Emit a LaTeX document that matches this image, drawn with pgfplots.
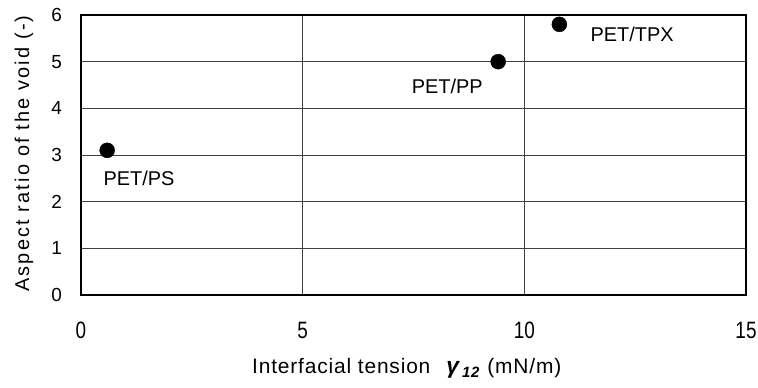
\documentclass[border=0pt]{standalone}
\usepackage{fontspec}
\setmainfont{Liberation Sans}
\newfontfamily\spacedx[LetterSpace=4]{Liberation Sans}
\newfontfamily\spacedy[LetterSpace=11]{Liberation Sans}
\usepackage{pgfplots}
\pgfplotsset{compat=1.18}
\begin{document}
\begin{tikzpicture}
\path[use as bounding box] (-81bp,-93bp) rectangle (677bp,295bp);
\begin{axis}[at={(0,0)},anchor=south west,scale only axis,width=665bp,height=280bp,
  xmin=0,xmax=15,ymin=0,ymax=6,xtick={0,5,10,15},ytick={0,1,2,3,4,5,6},
  grid=major, major grid style={black!75,line width=0.6bp},
  axis line style={line width=1.4bp}, major tick length=0pt,
  /pgf/number format/assume math mode=true,
  ticklabel style={font=\fontsize{19}{21}\selectfont},
  yticklabel style={anchor=east,inner sep=0pt,xshift=-19bp},
  xticklabel style={anchor=center,inner sep=0pt,yshift=-35bp,yscale=1.25},
  xlabel={Interfacial tension\hspace{16bp}{\bfseries\itshape\fontsize{23}{24}\selectfont γ\hspace{3bp}\raisebox{-4bp}{\fontsize{15}{16}\selectfont 12}}\hspace{8bp}(mN/m)},
  ylabel={Aspect ratio of the void (-)},
  xlabel style={at={(axis description cs:0.0,-0.261)},anchor=west,xshift=171bp,inner sep=0pt,font=\spacedx\fontsize{21}{23}\selectfont},
  ylabel style={at={(axis description cs:-0.0857,0.505)},anchor=center,font=\spacedy\fontsize{20}{22}\selectfont},
]
\addplot[only marks, mark=*, mark size=7.5bp, black] coordinates {(0.59,3.1) (9.41,5.0) (10.79,5.8)};
\node[font=\fontsize{20}{22}\selectfont] at (axis cs:1.31,2.5) {PET/PS};
\node[font=\fontsize{20}{22}\selectfont] at (axis cs:8.26,4.48) {PET/PP};
\node[font=\fontsize{20}{22}\selectfont] at (axis cs:12.43,5.58) {PET/TPX};
\end{axis}
\end{tikzpicture}
\end{document}
